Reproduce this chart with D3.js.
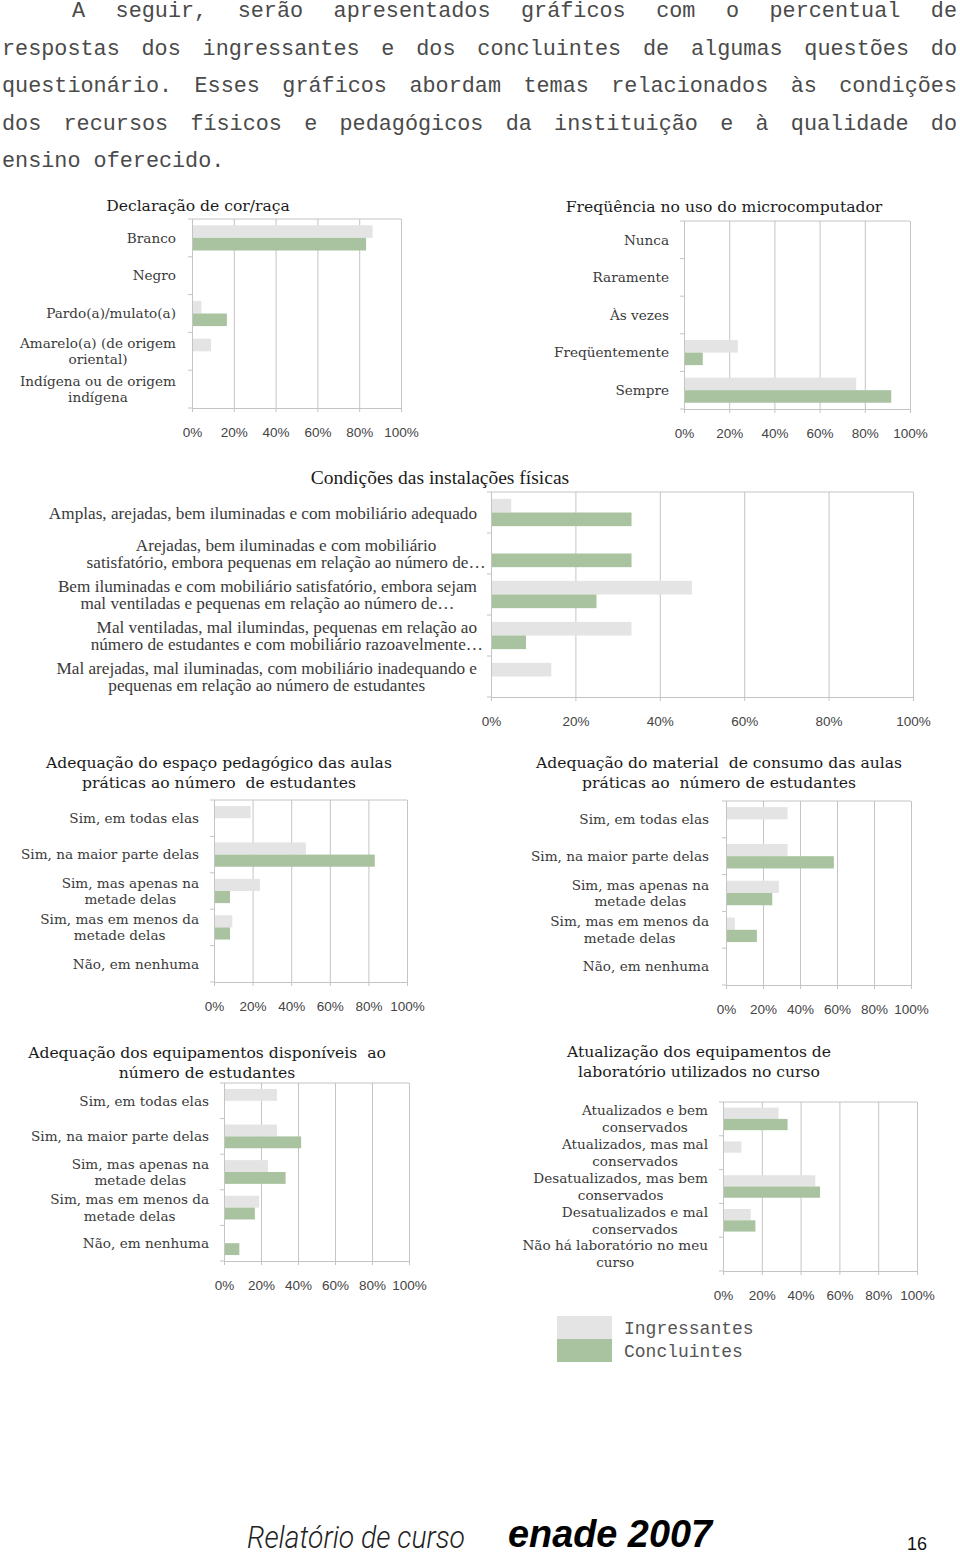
<!DOCTYPE html>
<html><head><meta charset="utf-8">
<script src="https://cdn.jsdelivr.net/npm/d3@7"></script>
<style>body{margin:0;background:#fff} svg{display:block}</style>
</head><body>
<svg id="page" width="960" height="1556"></svg>
<script>
// ---------------- DATA ----------------
const seriesNames = ["Ingressantes", "Concluintes"];
const tickValues = [0, 20, 40, 60, 80, 100];
const tickLabels = ["0%", "20%", "40%", "60%", "80%", "100%"];

const introLines = [
  "A seguir, serão apresentados gráficos com o percentual de",
  "respostas dos ingressantes e dos concluintes de algumas questões do",
  "questionário. Esses gráficos abordam temas relacionados às condições",
  "dos recursos físicos e pedagógicos da instituição e à qualidade do",
  "ensino oferecido."
];

const racaTitle = ["Declaração de cor/raça"];
const racaCats = ["Branco", "Negro", "Pardo(a)/mulato(a)", "Amarelo(a) (de origem\noriental)", "Indígena ou de origem\nindígena"];
const racaIngr = [86.4, 0, 4.5, 9.1, 0];
const racaConc = [83.3, 0, 16.7, 0, 0];

const microTitle = ["Freqüência no uso do microcomputador"];
const microCats = ["Nunca", "Raramente", "Às vezes", "Freqüentemente", "Sempre"];
const microIngr = [0, 0, 0, 23.8, 76.2];
const microConc = [0, 0, 0, 8.3, 91.7];

const instTitle = ["Condições das instalações físicas"];
const instCats = [
  "Amplas, arejadas, bem iluminadas e com mobiliário adequado",
  "Arejadas, bem iluminadas e com mobiliário\nsatisfatório, embora pequenas em relação ao número de…",
  "Bem iluminadas e com mobiliário satisfatório, embora sejam\nmal ventiladas e pequenas em relação ao número de…",
  "Mal ventiladas, mal ilumindas, pequenas em relação ao\nnúmero de estudantes e com mobiliário razoavelmente…",
  "Mal arejadas, mal iluminadas, com mobiliário inadequando e\npequenas em relação ao número de estudantes"
];
const instIngr = [4.8, 0, 47.6, 33.3, 14.3];
const instConc = [33.3, 33.3, 25.0, 8.3, 0];

const adequacyCats = ["Sim, em todas elas", "Sim, na maior parte delas", "Sim, mas apenas na\nmetade delas", "Sim, mas em menos da\nmetade delas", "Não, em nenhuma"];

const espacoTitle = ["Adequação do espaço pedagógico das aulas", "práticas ao número  de estudantes"];
const espacoIngr = [19.0, 47.6, 23.8, 9.5, 0];
const espacoConc = [0, 83.3, 8.3, 8.3, 0];

const materialTitle = ["Adequação do material  de consumo das aulas", "práticas ao  número de estudantes"];
const materialIngr = [33.3, 33.3, 28.6, 4.8, 0];
const materialConc = [0, 58.3, 25.0, 16.7, 0];

const equipTitle = ["Adequação dos equipamentos disponíveis  ao", "número de estudantes"];
const equipIngr = [28.6, 28.6, 23.8, 19.0, 0];
const equipConc = [0, 41.7, 33.3, 16.7, 8.3];

const labTitle = ["Atualização dos equipamentos de", "laboratório utilizados no curso"];
const labCats = ["Atualizados e bem\nconservados", "Atualizados, mas mal\nconservados", "Desatualizados, mas bem\nconservados", "Desatualizados e mal\nconservados", "Não há laboratório no meu\ncurso"];
const labIngr = [28.6, 9.5, 47.6, 14.3, 0];
const labConc = [33.3, 0, 50.0, 16.7, 0];

// ---------------- STYLE / LAYOUT ----------------
const colors = { "Ingressantes": "#e3e4e3", "Concluintes": "#a9c3a0" };
const gridColor = "#c4c4c4";
const serifFont = "'DejaVu Serif', serif";
const narrowSerif = "'Liberation Serif', serif";
const tickFont = "'Liberation Sans', Arial, sans-serif";

const svg = d3.select("#page");

const charts = [
  { title: racaTitle, cats: racaCats, ingr: racaIngr, conc: racaConc,
    x0: 192, x1: 401, y0: 219, y1: 408, titleX: 198, titleY: 206, labelRight: 176,
    font: serifFont, labelSize: 13.6, titleSize: 15.6, lh: 16.5 },
  { title: microTitle, cats: microCats, ingr: microIngr, conc: microConc,
    x0: 684, x1: 910, y0: 221, y1: 409, titleX: 724, titleY: 207, labelRight: 669,
    font: serifFont, labelSize: 13.6, titleSize: 15.6, lh: 16.5 },
  { title: instTitle, cats: instCats, ingr: instIngr, conc: instConc,
    x0: 491, x1: 913, y0: 492, y1: 697, titleX: 440, titleY: 477, labelRight: 477,
    font: narrowSerif, labelSize: 17.2, titleSize: 19.5, lh: 17 },
  { title: espacoTitle, cats: adequacyCats, ingr: espacoIngr, conc: espacoConc,
    x0: 214, x1: 407, y0: 800, y1: 982, titleX: 219, titleY: 763, labelRight: 199,
    font: serifFont, labelSize: 13.6, titleSize: 15.6, lh: 16.5 },
  { title: materialTitle, cats: adequacyCats, ingr: materialIngr, conc: materialConc,
    x0: 726, x1: 911, y0: 801, y1: 985, titleX: 719, titleY: 763, labelRight: 709,
    font: serifFont, labelSize: 13.6, titleSize: 15.6, lh: 16.5 },
  { title: equipTitle, cats: adequacyCats, ingr: equipIngr, conc: equipConc,
    x0: 224, x1: 409, y0: 1083, y1: 1261, titleX: 207, titleY: 1053, labelRight: 209,
    font: serifFont, labelSize: 13.6, titleSize: 15.6, lh: 16.5 },
  { title: labTitle, cats: labCats, ingr: labIngr, conc: labConc,
    x0: 723, x1: 917, y0: 1102, y1: 1271, titleX: 699, titleY: 1052, labelRight: 708,
    font: serifFont, labelSize: 13.6, titleSize: 15.6, lh: 17 }
];

function drawChart(cfg) {
  const g = svg.append("g");
  const h = cfg.y1 - cfg.y0;
  const x = d3.scaleLinear().domain([0, 100]).range([cfg.x0, cfg.x1]);
  const y = d3.scaleBand().domain(d3.range(cfg.cats.length))
    .range([cfg.y0, cfg.y1]).paddingInner(1 / 3).paddingOuter(1 / 6);
  const ys = d3.scaleBand().domain(seriesNames).range([0, y.bandwidth()]);

  // gridlines
  g.append("g").attr("transform", `translate(0,${cfg.y1})`)
    .call(d3.axisBottom(x).tickValues(tickValues).tickSize(-h).tickFormat(""))
    .call(s => s.select(".domain").remove())
    .call(s => s.selectAll("line").attr("stroke", gridColor).attr("stroke-width", 1));
  // top border
  g.append("line").attr("x1", cfg.x0).attr("x2", cfg.x1).attr("y1", cfg.y0).attr("y2", cfg.y0)
    .attr("stroke", gridColor);

  // bars
  const rows = cfg.cats.map((c, i) => ({ i, vals: [cfg.ingr[i], cfg.conc[i]] }));
  g.selectAll("g.row").data(rows).join("g").attr("class", "row")
    .attr("transform", d => `translate(0,${y(d.i)})`)
    .selectAll("rect").data(d => seriesNames.map((s, k) => ({ s, v: d.vals[k] })))
    .join("rect")
    .attr("x", x(0))
    .attr("y", d => ys(d.s))
    .attr("width", d => x(d.v) - x(0))
    .attr("height", ys.bandwidth())
    .attr("fill", d => colors[d.s]);

  // value axis
  const ax = g.append("g").attr("transform", `translate(0,${cfg.y1})`)
    .call(d3.axisBottom(x).tickValues(tickValues).tickFormat((d, i) => tickLabels[i]).tickSize(4).tickPadding(15));
  ax.select(".domain").attr("stroke", gridColor);
  ax.selectAll("line").attr("stroke", gridColor);
  ax.selectAll("text").attr("font-family", tickFont).attr("font-size", 13.5).attr("fill", "#444");

  // category axis line + boundary ticks
  g.append("line").attr("x1", cfg.x0 + 0.5).attr("x2", cfg.x0 + 0.5).attr("y1", cfg.y0).attr("y2", cfg.y1 + 4)
    .attr("stroke", gridColor);
  const step = y.step();
  g.selectAll("line.ctick").data(d3.range(cfg.cats.length + 1)).join("line").attr("class", "ctick")
    .attr("x1", cfg.x0 - 4).attr("x2", cfg.x0)
    .attr("y1", i => cfg.y0 + i * step).attr("y2", i => cfg.y0 + i * step)
    .attr("stroke", gridColor);

  // category labels (multi-line, lines centred, block right-aligned)
  cfg.cats.forEach((cat, i) => {
    const lines = cat.split("\n");
    const cy = y(i) + y.bandwidth() / 2;
    const texts = lines.map((ln, k) => g.append("text")
      .attr("y", cy + (k - (lines.length - 1) / 2) * cfg.lh)
      .attr("dy", "0.35em")
      .attr("font-family", cfg.font).attr("font-size", cfg.labelSize)
      .attr("fill", "#3a3a3a").attr("text-anchor", "middle")
      .text(ln));
    const widths = texts.map((t, k) => {
      const full = t.node().getComputedTextLength();
      if (lines[k].endsWith("…")) {
        const tmp = g.append("text").attr("font-family", cfg.font).attr("font-size", cfg.labelSize)
          .text(lines[k].slice(0, -1));
        const w = tmp.node().getComputedTextLength(); tmp.remove(); return w;
      }
      return full;
    });
    const W = d3.max(widths);
    texts.forEach(t => t.attr("x", cfg.labelRight - W / 2));
  });

  // title
  cfg.title.forEach((ln, k) => {
    g.append("text").attr("x", cfg.titleX).attr("y", cfg.titleY + k * 19.5).attr("dy", "0.35em")
      .attr("text-anchor", "middle").attr("font-family", cfg.font).attr("font-size", cfg.titleSize)
      .attr("fill", "#1a1a1a").style("white-space", "pre").text(ln);
  });
}

charts.forEach(drawChart);

// ---------------- INTRO PARAGRAPH (justified) ----------------
const introG = svg.append("g").attr("font-family", "'Liberation Mono', 'Courier New', monospace")
  .attr("font-size", 21.8).attr("fill", "#4a4a4a");
introLines.forEach((line, li) => {
  const left = li === 0 ? 72 : 2;
  const right = 957;
  const baseline = 17 + li * 37.5;
  const words = line.split(" ");
  const nodes = words.map(w => introG.append("text").attr("y", baseline).text(w));
  const widths = nodes.map(n => n.node().getComputedTextLength());
  const justify = li < introLines.length - 1;
  const spaceW = widths[0] / words[0].length;
  const gap = justify ? (right - left - d3.sum(widths)) / (words.length - 1) : spaceW;
  let cx = left;
  nodes.forEach((n, k) => { n.attr("x", cx); cx += widths[k] + gap; });
});

// ---------------- LEGEND ----------------
const legend = svg.append("g");
seriesNames.forEach((s, k) => {
  legend.append("rect").attr("x", 557).attr("y", 1316 + k * 23).attr("width", 55).attr("height", 23)
    .attr("fill", colors[s]);
  legend.append("text").attr("x", 624).attr("y", 1328 + k * 23).attr("dy", "0.35em")
    .attr("font-family", "'Liberation Mono', 'Courier New', monospace").attr("font-size", 18)
    .attr("fill", "#555").text(s);
});

// ---------------- FOOTER ----------------
svg.append("text").attr("x", 247).attr("y", 1548)
  .attr("font-family", "Roboto, 'Liberation Sans', sans-serif").attr("font-weight", 300)
  .attr("font-style", "italic").attr("font-size", 31).attr("fill", "#222")
  .attr("textLength", 218).attr("lengthAdjust", "spacingAndGlyphs").text("Relatório de curso");
svg.append("text").attr("x", 508).attr("y", 1547)
  .attr("font-family", "'Liberation Sans', Arial, sans-serif").attr("font-weight", "bold")
  .attr("font-style", "italic").attr("font-size", 38).attr("fill", "#000")
  .attr("textLength", 204).attr("lengthAdjust", "spacingAndGlyphs").text("enade 2007");
svg.append("text").attr("x", 917).attr("y", 1550).attr("text-anchor", "middle")
  .attr("font-family", "'Liberation Sans', Arial, sans-serif").attr("font-size", 18)
  .attr("fill", "#111").text("16");
</script>
</body></html>
